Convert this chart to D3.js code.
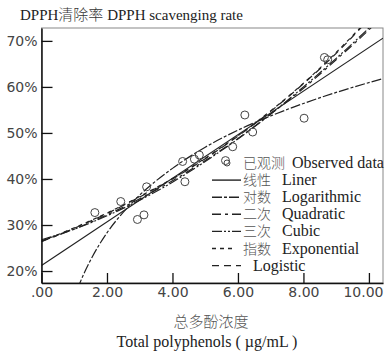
<!DOCTYPE html>
<html>
<head>
  <meta charset="utf-8">
  <title>DPPH scavenging rate</title>
  <style type="text/css">
    body { margin: 0; background: #fff; }
    svg { display: block; }
    .tick text { font-family: "DejaVu Sans", sans-serif; font-size: 14px; fill: #444; }
    .serif { font-family: "Liberation Serif", "Times New Roman", serif; fill: #222; }
    .cjk { font-family: "Noto Sans CJK SC", sans-serif; fill: #555; font-weight: 300; }
  </style>
</head>
<body>
<div id="chart"></div>
<script src="https://d3js.org/d3.v7.min.js"></script>
<script type="text/javascript">
var width = 385, height = 351;

// observed points: total polyphenols (ug/mL) vs scavenging rate (%)
var obsX = [1.63, 2.42, 2.93, 3.13, 3.21, 4.31, 4.38, 4.67, 4.82, 5.62, 5.84, 6.21, 6.45, 8.02, 8.64, 8.74];
var obsY = [32.7, 35.1, 31.2, 32.2, 38.3, 43.8, 39.4, 44.3, 45.2, 44.0, 47.0, 53.9, 50.2, 53.2, 66.4, 65.9];

// fitted curves
var linearX = [0, 10.43];
var linearY = [21.2, 70.6];
var logX = [1.1, 1.25, 1.5, 2, 2.5, 3, 4, 5, 6, 7, 8, 9, 10.43];
var logY = [16.1, 18.7, 22.4, 28.3, 32.8, 36.5, 42.3, 46.9, 50.6, 53.7, 56.4, 58.8, 61.8];
var fitX = [0, 1, 2, 3, 4, 5, 6, 7, 8, 9, 10, 10.43];
var quadY = [26.5, 29.1, 32.2, 35.7, 39.6, 44.0, 48.8, 54.1, 59.7, 65.9, 72.4, 75.4];
var cubicY = [26.8, 29.1, 32.0, 35.4, 39.3, 43.8, 48.7, 54.1, 60.0, 66.2, 72.8, 75.8];
var expY = [26.5, 29.4, 32.6, 36.2, 40.1, 44.5, 49.4, 54.8, 60.8, 67.5, 74.9, 78.3];
var logisticY = [26.4, 29.3, 32.5, 36.1, 40.0, 44.4, 49.3, 54.7, 60.7, 67.3, 74.7, 78.1];

var xTicks = [0, 2, 4, 6, 8, 10];
var yTicks = [20, 30, 40, 50, 60, 70];

var legendCn = ["已观测", "线性", "对数", "二次", "三次", "指数", ""];
var legendEn = ["Observed data", "Liner", "Logarithmic", "Quadratic", "Cubic", "Exponential", "Logistic"];

var series = [
  {xs: linearX, ys: linearY, dash: null},
  {xs: logX, ys: logY, dash: "10,2,3,2"},
  {xs: fitX, ys: quadY, dash: "9,4,3,4"},
  {xs: fitX, ys: cubicY, dash: "10,2,2,2,2,2"},
  {xs: fitX, ys: expY, dash: "4,4"},
  {xs: fitX, ys: logisticY, dash: "7,5"}
];

var plot = {left: 41.5, right: 383, top: 28, bottom: 283};

var x = d3.scaleLinear().domain([0, 10.43]).range([plot.left, plot.right]);
var y = d3.scaleLinear().domain([17.4, 72.8]).range([plot.bottom, plot.top]);

var svg = d3.select("#chart").append("svg")
  .attr("width", width)
  .attr("height", height);

svg.append("defs").append("clipPath").attr("id", "clip")
  .append("rect")
  .attr("x", plot.left).attr("y", plot.top)
  .attr("width", plot.right - plot.left).attr("height", plot.bottom - plot.top);

// frame
svg.append("rect")
  .attr("x", plot.left).attr("y", plot.top)
  .attr("width", plot.right - plot.left).attr("height", plot.bottom - plot.top)
  .attr("fill", "none").attr("stroke", "#888").attr("stroke-width", 1);

var line = d3.line()
  .x(d => x(d[0]))
  .y(d => y(d[1]))
  .curve(d3.curveMonotoneX);

var curves = svg.append("g").attr("clip-path", "url(#clip)");
series.forEach(s => {
  curves.append("path")
    .datum(s.xs.map((v, i) => [v, s.ys[i]]))
    .attr("d", line)
    .attr("fill", "none")
    .attr("stroke", "#222")
    .attr("stroke-width", 1.2)
    .attr("stroke-dasharray", s.dash);
});

svg.append("g")
  .selectAll("circle")
  .data(obsX.map((v, i) => [v, obsY[i]]))
  .enter()
  .append("circle")
  .attr("cx", d => x(d[0]))
  .attr("cy", d => y(d[1]))
  .attr("r", 4)
  .attr("fill", "none")
  .attr("stroke", "#444")
  .attr("stroke-width", 1);

// axes
var yAxis = d3.axisLeft(y)
  .tickValues(yTicks)
  .tickFormat(d => d + "%")
  .tickSize(-11)
  .tickSizeOuter(0)
  .tickPadding(4);

var xAxis = d3.axisBottom(x)
  .tickValues(xTicks)
  .tickFormat(d => d === 0 ? ".00" : d.toFixed(2))
  .tickSize(-10)
  .tickSizeOuter(0)
  .tickPadding(4);

var gy = svg.append("g").attr("transform", `translate(${plot.left},0)`).call(yAxis);
var gx = svg.append("g").attr("transform", `translate(0,${plot.bottom})`).call(xAxis);
[gx, gy].forEach(g => {
  g.select(".domain").attr("stroke", "#111").attr("stroke-width", 1.5);
  g.selectAll(".tick line").attr("stroke", "#111").attr("stroke-width", 1.3);
});
// last label sits flush with the right edge
gx.selectAll(".tick text").filter(d => d === 10)
  .attr("text-anchor", "end").attr("x", plot.right - x(10));

// legend
var legend = svg.append("g");
var rowY = d3.range(legendEn.length).map(i => 163 + i * 17.1);
legendEn.forEach((t, i) => {
  var cy = rowY[i];
  if (i === 0) {
    legend.append("circle")
      .attr("cx", 227).attr("cy", cy).attr("r", 3)
      .attr("fill", "none").attr("stroke", "#444");
  } else {
    var s = series[i - 1];
    legend.append("line")
      .attr("x1", 212).attr("x2", i === 5 ? 232 : 241)
      .attr("y1", cy).attr("y2", cy)
      .attr("stroke", "#222").attr("stroke-width", 1.4)
      .attr("stroke-dasharray", s.dash);
  }
  if (legendCn[i]) {
    legend.append("text")
      .attr("class", "cjk")
      .attr("x", 243).attr("y", cy + 5)
      .style("font-size", "14px")
      .text(legendCn[i]);
  }
  legend.append("text")
    .attr("class", "serif")
    .attr("x", i === 0 ? 292 : (i === 6 ? 253 : 282))
    .attr("y", cy + 5)
    .style("font-size", "16px")
    .text(t);
});

// titles
var title = svg.append("text").attr("x", 20).attr("y", 20).style("font-size", "15px");
title.append("tspan").attr("class", "serif").text("DPPH");
title.append("tspan").attr("class", "cjk").style("fill", "#333").text("清除率");
title.append("tspan").attr("class", "serif").text(" DPPH scavenging rate");

svg.append("text")
  .attr("class", "cjk")
  .attr("x", 211).attr("y", 327)
  .attr("text-anchor", "middle")
  .style("font-size", "15px")
  .text("总多酚浓度");

svg.append("text")
  .attr("class", "serif")
  .attr("x", 207).attr("y", 347)
  .attr("text-anchor", "middle")
  .style("font-size", "16px")
  .text("Total polyphenols ( µg/mL )");
</script>
</body>
</html>
